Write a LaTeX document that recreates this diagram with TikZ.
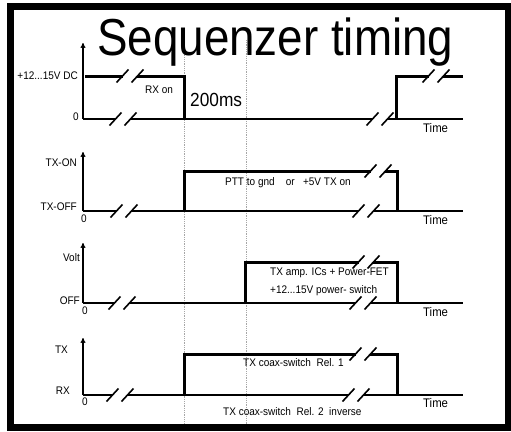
\documentclass[tikz,border=0pt]{standalone}
\usepackage{fontspec}
\setmainfont{Liberation Sans}
\newfontfamily\narrowsans{Liberation Sans}[FakeStretch=0.91]
\usetikzlibrary{arrows.meta}

% break mark: two slashes with a gap in the line
\newcommand{\breakmark}[2]{%
  \draw[white,line width=4pt] (#1-7,#2) -- (#1+7,#2);
  \draw[line width=1.6pt] (#1-13.5,#2+6.5) -- (#1-1.5,#2-6.5) (#1+1.5,#2+6.5) -- (#1+13.5,#2-6.5);
}

\begin{document}
\begin{tikzpicture}[x=1pt,y=-1pt]
\tikzstyle{axis} = [line width=1.2pt,-{To[length=5pt,width=5pt]}]
\tikzstyle{sig} = [line width=3pt]
\tikzstyle{base} = [line width=2pt]
\tikzstyle{lbl} = [font=\narrowsans\fontsize{11}{13}\selectfont, inner sep=0pt]
\tikzstyle{timelbl} = [font=\narrowsans\fontsize{12.5}{14}\selectfont, inner sep=0pt, anchor=west]
\tikzstyle{marker} = [gray!70, densely dotted, line width=0.8pt]

\useasboundingbox (0,0) rectangle (511,431);
\draw[line width=7pt] (10.5,6.5) rectangle (508,427.5);

% time markers
\draw[marker] (184,50) -- (184,424);
\draw[marker] (246,40) -- (246,424);

\node[inner sep=0pt, anchor=base west, font=\fontsize{52}{60}\selectfont] (title) at (97,55) {\scalebox{0.88}[1]{Sequenzer timing}};

% RX supply
\draw[axis] (83,119) -- (83,43);
\draw[base] (83,119) -- (463,119);
\draw[sig] (85,76) -- (184,76) -- (184,119);
\draw[sig] (396,119) -- (396,76) -- (463,76);
\breakmark{130}{76}
\breakmark{123}{119}
\breakmark{380}{119}
\breakmark{436}{76}
\node[lbl, anchor=east] (rxhi) at (78,76) {+12...15V DC};
\node[lbl, anchor=east] (rxzero) at (79,117) {0};
\node[lbl, anchor=west] (rxon) at (145,90) {RX on};
\node[inner sep=0pt, anchor=west, font=\narrowsans\fontsize{19}{21}\selectfont] (delay) at (190,100) {200ms};
\node[timelbl] (time1) at (423,128) {Time};

% PTT
\draw[axis] (83,211) -- (83,152);
\draw[base] (83,211) -- (463,211);
\draw[sig] (184,211) -- (184,171) -- (397,171) -- (397,211);
\breakmark{124}{211}
\breakmark{378}{171}
\breakmark{366}{211}
\node[lbl, anchor=east] (txon) at (77,163) {TX-ON};
\node[lbl, anchor=east] (txoff) at (77,207) {TX-OFF};
\node[lbl, anchor=west] (pttzero) at (81,219) {0};
\node[lbl, anchor=west] (ptt) at (225,183) {PTT to gnd\ \ \ \ or\ \ \ +5V TX on};
\node[timelbl] (time2) at (423,220) {Time};

% power switch
\draw[axis] (83,303) -- (83,243);
\draw[base] (83,303) -- (463,303);
\draw[sig] (245,303) -- (245,262) -- (397,262) -- (397,303);
\breakmark{122}{303}
\breakmark{366}{262}
\breakmark{363}{303}
\node[lbl, anchor=east] (volt) at (80,258) {Volt};
\node[lbl, anchor=east] (off) at (80,301) {OFF};
\node[lbl, anchor=west] (pwrzero) at (82,311) {0};
\node[lbl, anchor=west] (amp) at (270,273) {TX amp. ICs + Power-FET};
\node[lbl, anchor=west] (pwr) at (270,291) {+12...15V power- switch};
\node[timelbl] (time3) at (423,312) {Time};

% coax relays
\draw[axis] (83,395) -- (83,338);
\draw[base] (83,395) -- (463,395);
\draw[sig] (184,395) -- (184,354) -- (397,354) -- (397,395);
\breakmark{120}{395}
\breakmark{363}{354}
\breakmark{356}{395}
\node[lbl, anchor=east] (tx) at (68,350) {TX};
\node[lbl, anchor=east] (rx) at (70,391) {RX};
\node[lbl, anchor=west] (relzero) at (82,402) {0};
\node[lbl, anchor=west] (relone) at (243,363) {TX coax-switch\ \ Rel. 1};
\node[lbl, anchor=west] (reltwo) at (223,412) {TX coax-switch\ \ Rel. 2\ \ inverse};
\node[timelbl] (time4) at (423,403) {Time};
\end{tikzpicture}
\end{document}
